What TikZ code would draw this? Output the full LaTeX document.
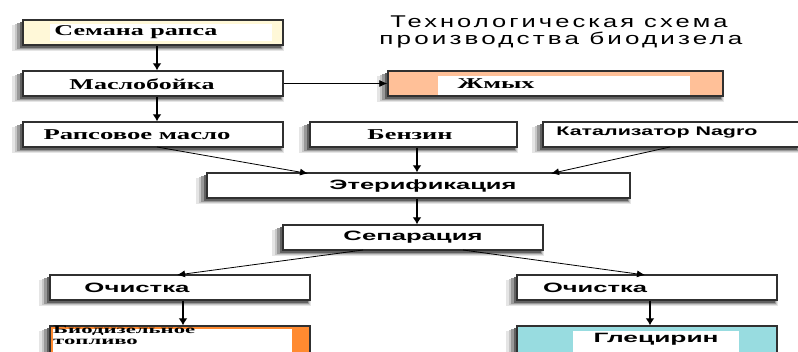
\documentclass[tikz,border=0pt]{standalone}
\usepackage{fontspec}
\usepackage{graphicx}
\setmainfont{Liberation Serif}
\newfontfamily\arialf{Liberation Sans}
\newfontfamily\arialsp{Liberation Sans}[LetterSpace=12]
\usetikzlibrary{arrows.meta}
\definecolor{seedy}{HTML}{FFF8D8}
\definecolor{cakec}{HTML}{FFC098}
\definecolor{fuelc}{HTML}{FF8A30}
\definecolor{glyc}{HTML}{98DCE0}
\definecolor{edge}{HTML}{303030}
\newcommand\fitw[2]{\resizebox{#1}{\height}{#2}}
% #1 name, #2 cx, #3 cy, #4 width, #5 height, #6 fill
\newcommand\shbox[6]{%
  \fill[black!10] (#2-#4/2-11,#3-#5/2+5) rectangle (#2+#4/2+1,#3+#5/2+6);
  \fill[black!22] (#2-#4/2-8.5,#3-#5/2+4) rectangle (#2+#4/2,#3+#5/2+5);
  \fill[black!40] (#2-#4/2-6,#3-#5/2+3) rectangle (#2+#4/2-1,#3+#5/2+4);
  \fill[black!62] (#2-#4/2-3.5,#3-#5/2+2) rectangle (#2+#4/2-2,#3+#5/2+3);
  \node[box,fill=#6,minimum width=#4pt,minimum height=#5pt] (#1) at (#2,#3) {};}
\begin{document}
\begin{tikzpicture}[x=1pt,y=-1pt,
  box/.style={draw=edge,line width=1.4pt,inner sep=0pt},
  lbl/.style={inner sep=0pt,anchor=center},
  serb/.style={font=\fontsize{15}{15}\selectfont\bfseries},
  sanb/.style={font=\arialf\fontsize{13.5}{13.5}\selectfont\bfseries},
  arr/.style={draw=black,line width=0.8pt,-{Latex[length=8pt,width=7pt]}},
  varr/.style={draw=black,line width=1.5pt,-{Latex[length=7pt,width=9pt]}}]
\useasboundingbox (0,0) rectangle (798,352);
\clip (0,0) rectangle (798,352);
% title
\node[lbl,font=\arialsp\fontsize{17}{17}\selectfont,anchor=base] (t1) at (559,28) {\fitw{337pt}{Технологическая схема}};
\node[lbl,font=\arialsp\fontsize{17}{17}\selectfont,anchor=base] (t2) at (561,45) {\fitw{363pt}{производства биодизела}};
% boxes
\shbox{seed}{153}{32.5}{260}{25}{seedy}
\fill[white] (50,24) rectangle (272,41);
\node[lbl,serb] (seedt) at (136,32.5) {\fitw{163pt}{Семана рапса}};
\shbox{press}{153}{83.5}{260}{25}{white}
\node[lbl,serb] (presst) at (142,84) {\fitw{145pt}{Маслобойка}};
\shbox{cake}{555.5}{83.5}{335}{25}{cakec}
\fill[white] (438,76) rectangle (690,95);
\node[lbl,serb] (caket) at (496,84) {\fitw{77pt}{Жмых}};
\shbox{oil}{153}{134.5}{260}{25}{white}
\node[lbl,serb] (oilt) at (137,135) {\fitw{187pt}{Рапсовое масло}};
\shbox{benz}{413.5}{134.5}{207}{25}{white}
\node[lbl,serb] (benzt) at (410,135) {\fitw{85pt}{Бензин}};
\shbox{cat}{671}{134.5}{256}{25}{white}
\node[lbl,font=\arialf\fontsize{12.5}{12.5}\selectfont\bfseries] (catt) at (657,133) {\fitw{201pt}{Катализатор Nagro}};
\shbox{ester}{418.5}{185.5}{423}{25}{white}
\node[lbl,sanb] (estert) at (423,186) {\fitw{187pt}{Этерификация}};
\shbox{sep}{413}{237.5}{260}{25}{white}
\node[lbl,sanb] (sept) at (413,237) {\fitw{139pt}{Сепарация}};
\shbox{cl1}{180}{287.5}{260}{25}{white}
\node[lbl,sanb] (cl1t) at (137,288) {\fitw{105pt}{Очистка}};
\shbox{cl2}{647}{287.5}{260}{25}{white}
\node[lbl,sanb] (cl2t) at (595,288) {\fitw{104pt}{Очистка}};
\shbox{fuel}{180}{342}{260}{32}{fuelc}
\fill[white] (53,329) rectangle (292,356);
\node[lbl,anchor=north west,font=\fontsize{11.5}{11}\selectfont\bfseries] (fuelt) at (53,326) {\fitw{142pt}{\begin{tabular}{@{}l@{}}Биодизельное\\топливо\end{tabular}}};
\shbox{gly}{647}{342}{260}{32}{glyc}
\fill[white] (573,331) rectangle (739,356);
\node[lbl,sanb] (glyt) at (656,339) {\fitw{125pt}{Глецирин}};
% connectors
\draw[varr] (seed.south -| 157,0) -- (press.north -| 157,0);
\draw[varr] (press.south -| 157,0) -- (oil.north -| 157,0);
\draw[arr] (press.east) -- (cake.west);
\draw[arr] (157,147) -- (308,173.5);
\draw[varr] (benz.south -| 417,0) -- (ester.north -| 417,0);
\draw[arr] (670,147) -- (551,173.5);
\draw[varr] (ester.south -| 417,0) -- (sep.north -| 417,0);
\draw[arr] (363,250) -- (177,275);
\draw[arr] (463,250) -- (645,275);
\draw[varr] (cl1.south -| 183,0) -- (fuel.north -| 183,0);
\draw[varr] (cl2.south -| 650,0) -- (gly.north -| 650,0);
\end{tikzpicture}
\end{document}
